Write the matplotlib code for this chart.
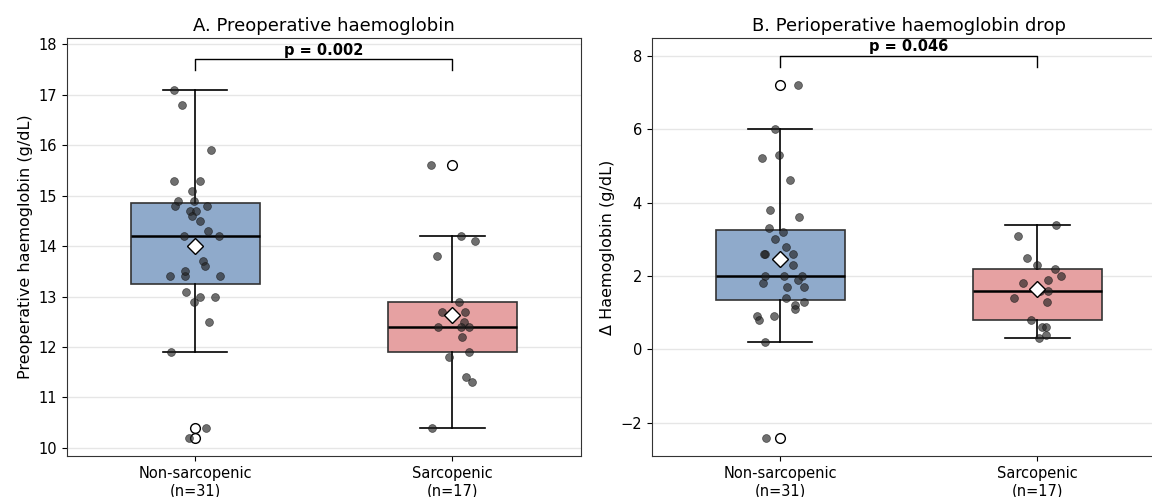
import numpy as np
import matplotlib
matplotlib.use("Agg")
from matplotlib import pyplot as plt

groups = ["Non-sarcopenic\n(n=31)", "Sarcopenic\n(n=17)"]

preop_non = [17.1, 16.8, 15.9, 15.3, 15.3, 15.1, 14.9, 14.9, 14.8, 14.8, 14.7,
             14.7, 14.6, 14.5, 14.3, 14.2, 14.2, 13.7, 13.6, 13.4, 13.4, 13.4,
             13.5, 13.1, 13.0, 13.0, 12.9, 12.5, 11.9, 10.4, 10.2]
preop_sarc = [15.6, 14.2, 14.1, 13.8, 12.9, 12.7, 12.7, 12.5, 12.4, 12.4, 12.4,
              12.2, 11.9, 11.8, 11.4, 11.3, 10.4]

drop_non = [7.2, 6.0, 5.3, 5.2, 4.6, 3.8, 3.6, 3.3, 3.2, 3.0, 2.8, 2.6, 2.6,
            2.6, 2.3, 2.0, 2.0, 2.0, 1.9, 1.8, 1.7, 1.7, 1.4, 1.3, 1.2, 1.1,
            0.9, 0.9, 0.8, 0.2, -2.4]
drop_sarc = [3.4, 3.1, 2.5, 2.3, 2.2, 2.0, 1.9, 1.8, 1.6, 1.6, 1.4, 1.3, 0.8,
             0.6, 0.6, 0.4, 0.3]

p_values = ["p = 0.002", "p = 0.046"]
colors = ["#8FAACB", "#E6A1A2"]

rng = np.random.default_rng(3)


def draw_panel(ax, data, title, ylabel, ylim, yticks, p_text, bracket_y, bracket_h):
    bp = ax.boxplot(data, positions=[0, 1], widths=0.5, patch_artist=True,
                    showmeans=True,
                    meanprops=dict(marker="D", markerfacecolor="white",
                                   markeredgecolor="black", markersize=8, zorder=5),
                    medianprops=dict(color="black", linewidth=1.8),
                    whiskerprops=dict(color="black", linewidth=1.2),
                    capprops=dict(color="black", linewidth=1.2),
                    flierprops=dict(marker="o", markerfacecolor="white",
                                    markeredgecolor="black", markersize=7))
    for patch, c in zip(bp["boxes"], colors):
        patch.set_facecolor(c)
        patch.set_edgecolor("#333333")
        patch.set_linewidth(1.2)

    # jittered raw points on top
    for i, vals in enumerate(data):
        x = i + rng.uniform(-0.1, 0.1, len(vals))
        ax.scatter(x, vals, s=32, color="#222222", alpha=0.65, zorder=4,
                   edgecolors="#111111", linewidths=0.5)

    # significance bracket
    ax.plot([0, 0, 1, 1], [bracket_y - bracket_h, bracket_y, bracket_y, bracket_y - bracket_h],
            color="black", linewidth=1.0)
    ax.text(0.5, bracket_y + bracket_h * 0.1, p_text, ha="center", va="bottom",
            fontsize=10.5, fontweight="bold")

    ax.set_xlim(-0.5, 1.5)
    ax.set_ylim(*ylim)
    ax.set_yticks(yticks)
    ax.set_xticks([0, 1])
    ax.set_xticklabels(groups, fontsize=10.5)
    ax.tick_params(axis="y", labelsize=10.5)
    ax.set_title(title, fontsize=13, pad=5)
    ax.set_ylabel(ylabel, fontsize=11.5)
    ax.yaxis.grid(True, color="#e6e6e6", linewidth=1)
    ax.set_axisbelow(True)
    for s in ax.spines.values():
        s.set_color("#333333")


fig = plt.figure(figsize=(11.52, 4.97), dpi=100)
W, H = 1152.0, 497.0
ax_a = fig.add_axes([66.7 / W, (H - 456) / H, 514.3 / W, 417.7 / H])
ax_b = fig.add_axes([651.7 / W, (H - 456) / H, 514.3 / W, 417.7 / H])

draw_panel(ax_a, [preop_non, preop_sarc], "A. Preoperative haemoglobin",
           "Preoperative haemoglobin (g/dL)", (9.84, 18.12), range(10, 19),
           p_values[0], 17.7, 0.2)
draw_panel(ax_b, [drop_non, drop_sarc], "B. Perioperative haemoglobin drop",
           "Δ Haemoglobin (g/dL)", (-2.9, 8.47), range(-2, 9, 2),
           p_values[1], 8.0, 0.3)

fig.savefig("out.png", dpi=100)
